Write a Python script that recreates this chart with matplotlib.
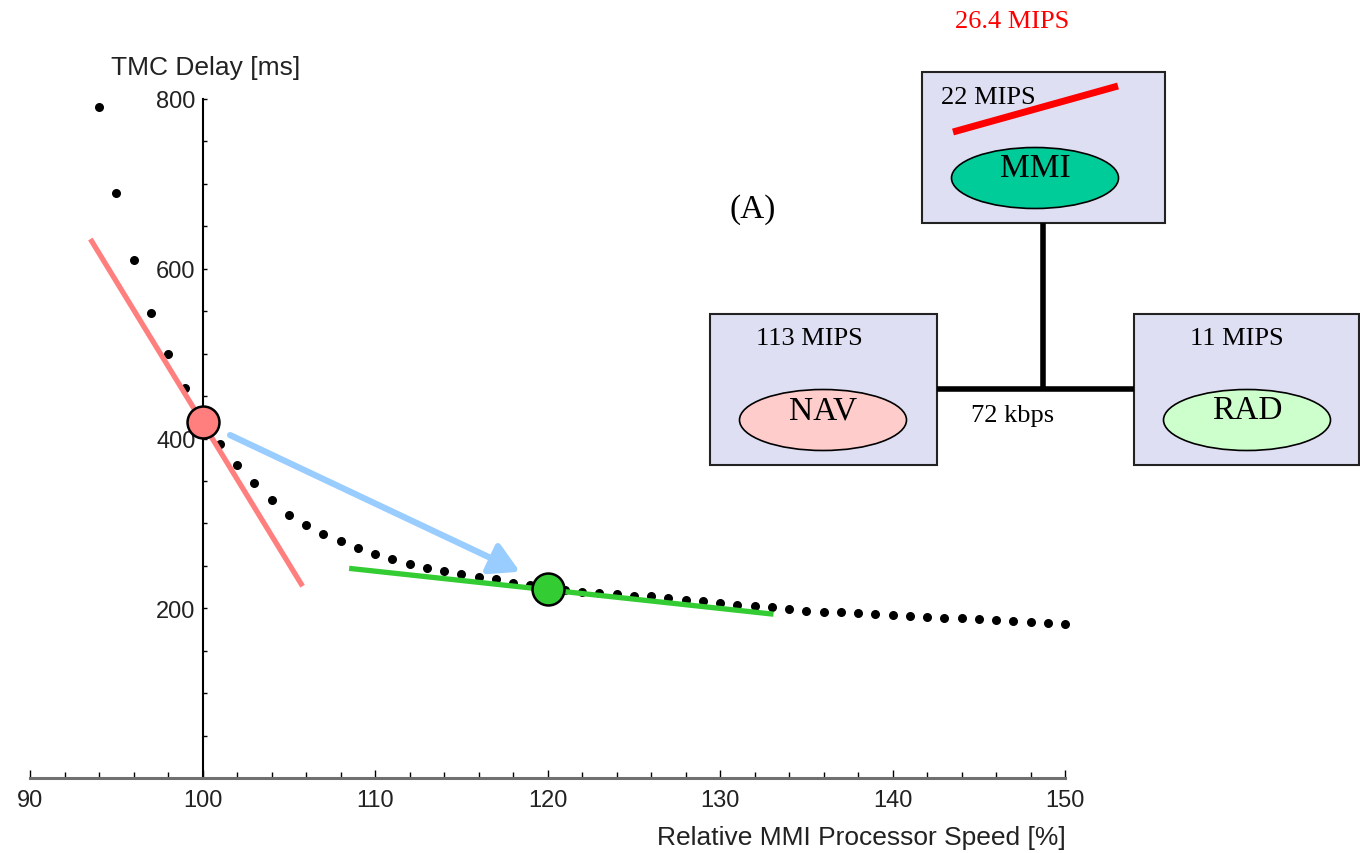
import matplotlib
matplotlib.use("Agg")
import matplotlib.pyplot as plt
from matplotlib.patches import Rectangle, Ellipse
from matplotlib.ticker import MultipleLocator, FixedLocator

# Data: TMC delay vs relative MMI processor speed
speed = list(range(94, 151))
delay = [790, 689, 610, 548, 500, 459, 420, 394, 369, 347,
         327, 310, 298, 288, 279, 271, 264, 258, 252, 248,
         244, 240, 237, 234, 230, 227, 224, 221, 219, 218,
         217, 215, 214, 212, 210, 208, 206, 204, 203, 201,
         199, 197, 196, 195, 194, 193, 192, 191, 190, 189,
         188, 187, 186, 185, 184, 183, 182]

# highlighted operating points
red_point = (100, 420)
green_point = (120, 223)

# tangent lines and arrow (data units)
red_tangent_x = [93.5, 105.8]
red_tangent_y = [635, 226]
green_tangent_x = [108.5, 133.1]
green_tangent_y = [247, 193]
arrow_start = (101.6, 404)
arrow_end = (118.4, 243)

x_ticks = [90, 100, 110, 120, 130, 140, 150]
y_ticks = [200, 400, 600, 800]

SALMON = "#FF7F7F"
GREEN = "#33CC33"
BLUE = "#99CCFF"

W, H = 1360, 854
fig = plt.figure(figsize=(W / 100, H / 100), dpi=100)

ax = fig.add_axes([30 / W, 75 / H, 1035 / W, 679 / H])
ax.set_xlim(90, 150)
ax.set_ylim(0, 800)
ax.patch.set_visible(False)

ax.spines["top"].set_visible(False)
ax.spines["right"].set_visible(False)
ax.spines["left"].set_position(("data", 100))
ax.spines["left"].set_linewidth(1.5)
ax.spines["bottom"].set_linewidth(2.2)
ax.spines["bottom"].set_color("#707070")

ax.xaxis.set_major_locator(FixedLocator(x_ticks))
ax.xaxis.set_minor_locator(MultipleLocator(2))
ax.yaxis.set_major_locator(FixedLocator(y_ticks))
ax.yaxis.set_minor_locator(MultipleLocator(50))
ax.tick_params(axis="x", which="major", direction="in", length=6, width=1,
               pad=8, labelsize=17, labelcolor="#222222")
ax.tick_params(axis="x", which="minor", direction="in", length=4, width=1)
ax.tick_params(axis="y", which="major", direction="in", length=3, width=1,
               pad=5, labelsize=17, labelcolor="#222222")
ax.tick_params(axis="y", which="minor", direction="in", length=3, width=1)
for lab in ax.get_xticklabels() + ax.get_yticklabels():
    lab.set_family("Liberation Sans")

# curve points
ax.scatter(speed, delay, s=30, color="black", zorder=3, clip_on=False)

# tangents
ax.plot(red_tangent_x, red_tangent_y, color=SALMON, lw=3.8, zorder=4,
        solid_capstyle="butt")
ax.plot(green_tangent_x, green_tangent_y, color=GREEN, lw=3.8, zorder=4,
        solid_capstyle="butt")

# arrow
ax.annotate("", xy=arrow_end, xytext=arrow_start,
            arrowprops=dict(arrowstyle="-|>,head_length=0.8,head_width=0.45",
                            color=BLUE, lw=4.5, mutation_scale=22,
                            shrinkA=0, shrinkB=0),
            zorder=4)

# operating points
ax.plot(*red_point, "o", ms=23, mfc=SALMON, mec="black", mew=1.8,
        zorder=5, clip_on=False)
ax.plot(*green_point, "o", ms=23, mfc=GREEN, mec="black", mew=1.8,
        zorder=5, clip_on=False)

fig.text(206 / W, 1 - 68 / H, "TMC Delay [ms]", ha="center", va="center",
         fontsize=19, color="#222222", family="Liberation Sans")
fig.text(1066 / W, 1 - 838 / H, "Relative MMI Processor Speed [%]",
         ha="right", va="center", fontsize=19, color="#222222",
         family="Liberation Sans")

# ---- architecture diagram (pixel coordinates) ----
d = fig.add_axes([0, 0, 1, 1])
d.set_xlim(0, W)
d.set_ylim(H, 0)
d.axis("off")
d.patch.set_visible(False)

BOX = "#DFDFF3"
SERIF = "Liberation Serif"

# links
d.plot([1043, 1043], [224, 390], color="black", lw=4, solid_capstyle="butt")
d.plot([937, 1134], [390, 390], color="black", lw=4, solid_capstyle="butt")

for (x0, y0, w, h) in [(922, 73, 243, 151), (710, 315, 227, 151), (1134, 315, 225, 151)]:
    d.add_patch(Rectangle((x0, y0), w, h, fc=BOX, ec="#222222", lw=1.5))

for (cx, cy, col, name) in [(1035, 179, "#00CC99", "MMI"),
                            (823, 421, "#FFCCCC", "NAV"),
                            (1247, 421, "#CCFFCC", "RAD")]:
    d.add_patch(Ellipse((cx, cy), 167, 61, fc=col, ec="black", lw=1.2))
    d.text(cx, cy - 10, name, ha="center", va="center", fontsize=24,
           family=SERIF, color="black")

d.plot([953, 1118], [133, 87], color="red", lw=5, solid_capstyle="butt")

d.text(1012, 22, "26.4 MIPS", ha="center", va="center", fontsize=19,
       family=SERIF, color="red")
d.text(988, 98, "22 MIPS", ha="center", va="center", fontsize=19,
       family=SERIF, color="black")
d.text(809, 339, "113 MIPS", ha="center", va="center", fontsize=19,
       family=SERIF, color="black")
d.text(1237, 339, "11 MIPS", ha="center", va="center", fontsize=19,
       family=SERIF, color="black")
d.text(1013, 416, "72 kbps", ha="center", va="center", fontsize=19,
       family=SERIF, color="black")
d.text(753, 210, "(A)", ha="center", va="center", fontsize=24,
       family=SERIF, color="black")

fig.savefig("out.png", dpi=100)
